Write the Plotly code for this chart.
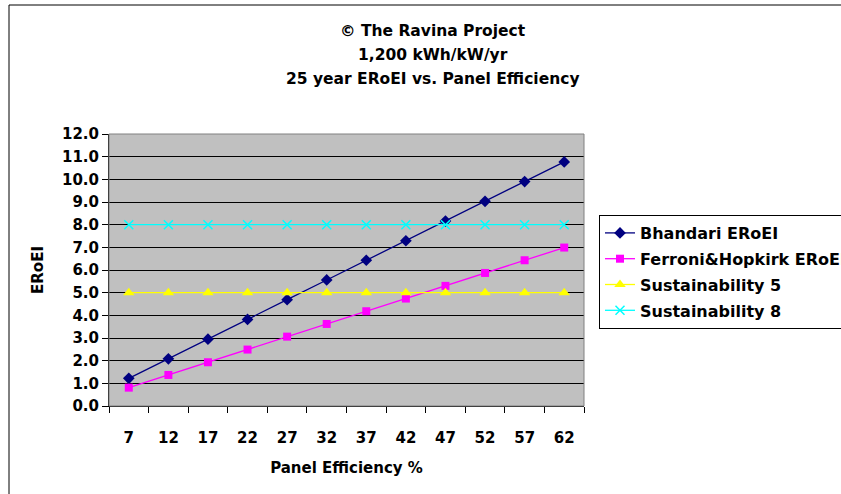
import plotly.graph_objects as go

efficiency = [7, 12, 17, 22, 27, 32, 37, 42, 47, 52, 57, 62]
bhandari = [1.22, 2.08, 2.95, 3.82, 4.69, 5.56, 6.43, 7.29, 8.16, 9.03, 9.90, 10.77]
ferroni = [0.81, 1.37, 1.93, 2.49, 3.06, 3.62, 4.18, 4.74, 5.30, 5.87, 6.43, 6.99]
sust5 = [5, 5, 5, 5, 5, 5, 5, 5, 5, 5, 5, 5]
sust8 = [8, 8, 8, 8, 8, 8, 8, 8, 8, 8, 8, 8]
y_ticks = [0, 1, 2, 3, 4, 5, 6, 7, 8, 9, 10, 11, 12]
title_lines = ["© The Ravina Project", "1,200 kWh/kW/yr", "25 year ERoEI vs. Panel Efficiency"]

FONT = "DejaVu Sans"
FS = 15
W, H = 841, 494
ML, MR, MT, MB = 109, 257, 134, 88
pw = W - ML - MR
ph = H - MT - MB

def px_x(x):
    return (x - ML) / pw

def px_y(y):
    return (H - MB - y) / ph

cats = [str(e) for e in efficiency]

fig = go.Figure()
series = [
    ("Bhandari ERoEI", bhandari, "#000080", "diamond", 9),
    ("Ferroni&Hopkirk ERoEI", ferroni, "#FF00FF", "square", 8),
    ("Sustainability 5", sust5, "#FFFF00", "triangle-up", 10),
    ("Sustainability 8", sust8, "#00FFFF", "x-thin", 9),
]
for name, vals, col, sym, sz in series:
    marker = dict(symbol=sym, size=sz, color=col)
    if sym == "x-thin":
        marker["line"] = dict(color=col, width=1.5)
    fig.add_trace(go.Scatter(
        x=cats, y=vals, name=name, mode="lines+markers",
        line=dict(color=col, width=1.3), marker=marker,
        legendgroup=name,
    ))

fig.update_layout(
    width=W, height=H,
    margin=dict(l=ML, r=MR, t=MT, b=MB, autoexpand=False),
    paper_bgcolor="white", plot_bgcolor="#C0C0C0",
    font=dict(family=FONT, size=FS, color="black", weight="bold"),
    showlegend=True,
    legend=dict(
        x=px_x(599), y=px_y(215), xanchor="left", yanchor="top",
        bordercolor="black", borderwidth=1, bgcolor="white",
        font=dict(family=FONT, size=16, color="black", weight="bold"),
        tracegroupgap=2,
    ),
    xaxis=dict(
        type="category", range=[-0.5, 11.5], tickson="boundaries",
        ticks="outside", ticklen=6, tickcolor="black",
        showline=True, linecolor="black", linewidth=1,
        showgrid=False, ticklabelstandoff=18,
        title=dict(text="Panel Efficiency %", standoff=16,
                   font=dict(family=FONT, size=FS, weight="bold")),
    ),
    yaxis=dict(
        range=[0, 12], tickvals=y_ticks, tickformat=".1f",
        ticks="outside", ticklen=6, tickcolor="black",
        showline=True, linecolor="black", linewidth=1,
        showgrid=True, gridcolor="black", gridwidth=1, zeroline=False,
        title=dict(text="ERoEI", standoff=14,
                   font=dict(family=FONT, size=FS, weight="bold")),
    ),
)

# plot-area border (top/right) and outer chart border
fig.add_shape(type="rect", xref="paper", yref="paper", x0=0, x1=1, y0=0, y1=1,
              line=dict(color="#808080", width=1), layer="above")
fig.add_shape(type="rect", xref="paper", yref="paper",
              x0=px_x(9), x1=px_x(1000), y0=px_y(600), y1=px_y(5),
              line=dict(color="black", width=1), layer="below")

for t, yy in zip(title_lines, [31, 55, 79]):
    fig.add_annotation(text=t, xref="paper", yref="paper", x=px_x(433), y=px_y(yy),
                       showarrow=False, xanchor="center", yanchor="middle",
                       font=dict(family=FONT, size=15.5, weight="bold", color="black"))

fig.write_html("out.html", config={"displayModeBar": False},
               post_script="document.body.style.margin='0';document.body.style.overflow='hidden';")
